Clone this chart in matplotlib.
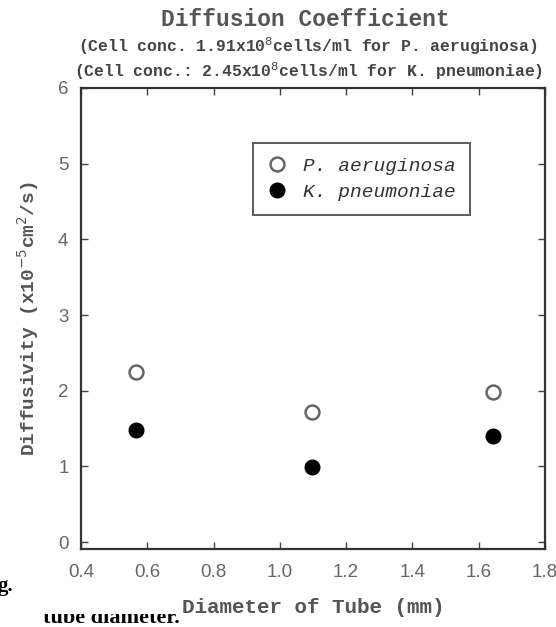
import matplotlib
matplotlib.use("Agg")
import matplotlib.pyplot as plt
from matplotlib.patches import Rectangle

# Data
diameter = [0.565, 1.097, 1.643]
p_aeruginosa = [2.25, 1.72, 1.99]
k_pneumoniae = [1.48, 0.99, 1.40]
xticks = [0.4, 0.6, 0.8, 1.0, 1.2, 1.4, 1.6, 1.8]
yticks = [0, 1, 2, 3, 4, 5, 6]

txt = '#444444'
mono = 'Liberation Mono'
W, H = 556, 627

fig = plt.figure(figsize=(5.56, 6.27), dpi=100)
ax = fig.add_axes([81/W, 1-549/H, (545-81)/W, (549-88)/H])

ax.plot(diameter, p_aeruginosa, 'o', ms=10, mfc='white', mec='#666666', mew=1.8,
        label='P. aeruginosa', linestyle='none')
ax.plot(diameter, k_pneumoniae, 'o', ms=10.5, mfc='black', mec='black',
        label='K. pneumoniae', linestyle='none')

ax.set_xlim(0.4, 1.8)
ax.set_ylim(-0.09, 6)
ax.set_xticks(xticks)
ax.set_xticklabels([f'{v:.1f}' for v in xticks])
ax.set_yticks(yticks)
ax.tick_params(direction='in', top=True, right=True, length=5, width=1,
               labelsize=13.5, labelcolor='#666666', color='#444444')
ax.tick_params(axis='x', pad=11)
ax.tick_params(axis='y', pad=9)
for lab in ax.get_xticklabels() + ax.get_yticklabels():
    lab.set_family('Liberation Sans')
for s in ax.spines.values():
    s.set_linewidth(1.6)
    s.set_color('#333333')

ax.set_xlabel('Diameter of Tube (mm)', family=mono, fontsize=15,
              fontweight='bold', color='#555555', labelpad=12)
ax.set_ylabel('Diffusivity (x10$^{-5}$cm$^{2}$/s)', family=mono, fontsize=14,
              fontweight='bold', color='#555555', labelpad=12)

leg = ax.legend(loc='upper left', bbox_to_anchor=((253-81)/464, 1-(143-88)/461),
                frameon=True, fancybox=False, edgecolor='#333333',
                prop={'family': mono, 'style': 'italic', 'size': 14},
                handletextpad=0.8, borderpad=0.75, labelspacing=0.4,
                handlelength=1.0, borderaxespad=0)
leg.get_frame().set_linewidth(1.4)
for t in leg.get_texts():
    t.set_color('#333333')

fig.text(305/W, 1-19/H, 'Diffusion Coefficient', ha='center', va='center',
         family=mono, fontsize=16.5, fontweight='bold', color='#555555')
fig.text(308/W, 1-46/H, '(Cell conc. 1.91x10$^{8}$cells/ml for P. aeruginosa)',
         ha='center', va='center', family=mono, fontsize=11.8, fontweight='bold', color=txt)
fig.text(309/W, 1-71/H, '(Cell conc.: 2.45x10$^{8}$cells/ml for K. pneumoniae)',
         ha='center', va='center', family=mono, fontsize=11.8, fontweight='bold', color=txt)

# caption remnants
fig.text(-3/W, 1-591/H, 'g.', ha='left', va='baseline', family='Liberation Serif',
         fontsize=15, fontweight='bold', color='black')
fig.text(43/W, 1-623/H, 'tube diameter.', ha='left', va='baseline',
         family='Liberation Serif', fontsize=16, fontweight='bold', color='black')
fig.add_artist(Rectangle((38/W, 1-614/H), 142/W, 18/H,
                         transform=fig.transFigure, facecolor='white',
                         edgecolor='none', zorder=20))

fig.savefig('out.png', dpi=100)
